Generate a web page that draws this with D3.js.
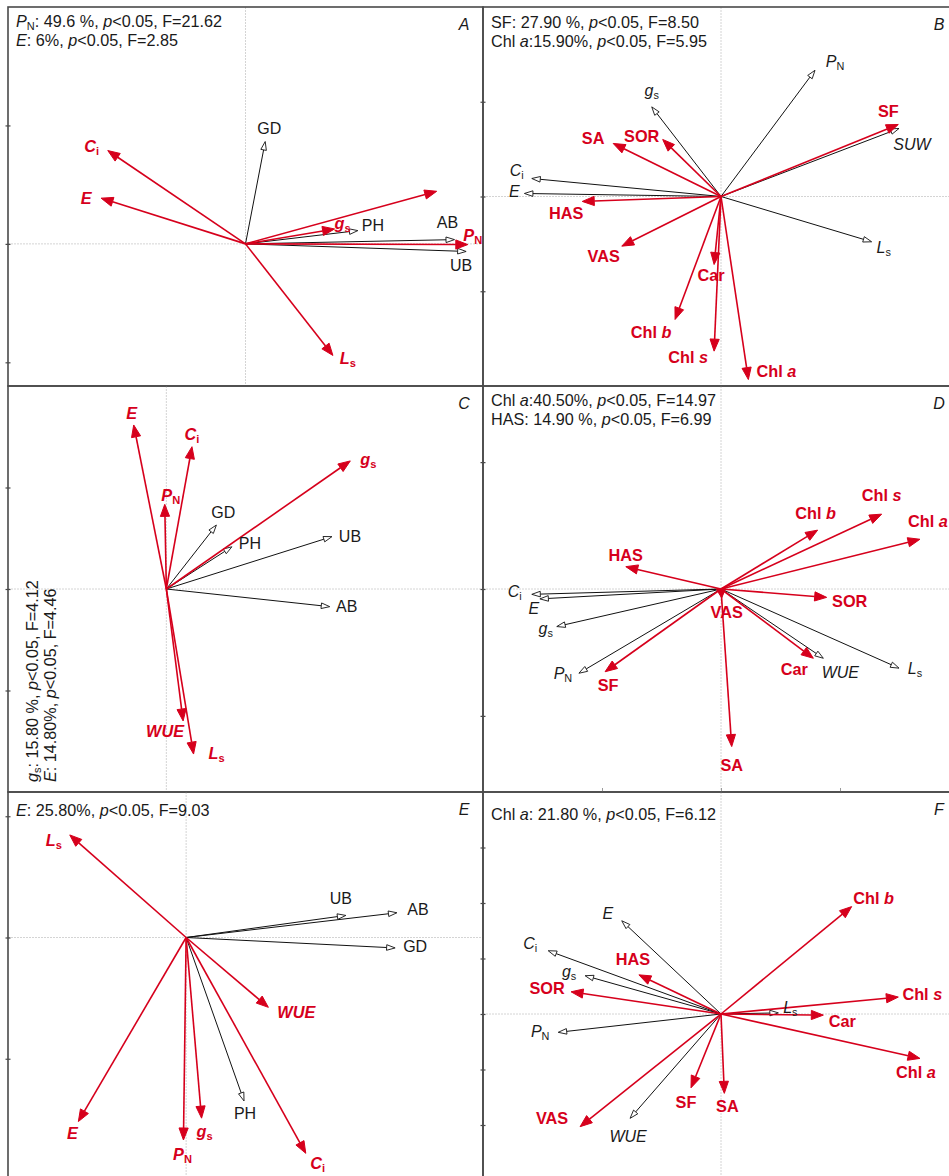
<!DOCTYPE html>
<html>
<head>
<meta charset="utf-8">
<script src="https://cdn.jsdelivr.net/npm/d3@7"></script>
<style>
  body { margin: 0; background: #fff; }
  svg { display: block; }
  text { font-family: "Liberation Sans", Arial, Helvetica, sans-serif; }
</style>
</head>
<body>
<svg id="fig" width="949" height="1176"></svg>
<script>
// ---- RDA biplot scores (canonical axis 1, axis 2) ----
// Markup in names: *x* = italic, _x_ = subscript

// Panel A
const A_red_names = ["*C*_i_", "*E*", "*WUE*", "*g*_s_", "*P*_N_", "*L*_s_"];
const A_red_x = [-0.580, -0.608, 0.805, 0.375, 0.936, 0.368];
const A_red_y = [0.394, 0.193, 0.222, 0.063, -0.003, -0.471];
const A_blk_names = ["GD", "PH", "AB", "UB"];
const A_blk_x = [0.083, 0.473, 0.880, 0.929];
const A_blk_y = [0.432, 0.056, 0.018, -0.032];

// Panel B
const B_blk_names = ["*P*_N_", "*g*_s_", "*SUW*", "*C*_i_", "*E*", "*L*_s_"];
const B_blk_x = [0.395, -0.291, 0.748, -0.795, -0.826, 0.633];
const B_blk_y = [0.666, 0.473, 0.359, 0.095, 0.016, -0.239];
const B_red_names = ["SF", "SA", "SOR", "HAS", "VAS", "Car", "Chl *b*", "Chl *s*", "Chl *a*"];
const B_red_x = [0.745, -0.453, -0.245, -0.583, -0.417, -0.029, -0.193, -0.029, 0.115];
const B_red_y = [0.380, 0.280, 0.301, -0.026, -0.262, -0.359, -0.649, -0.816, -0.966];

// Panel C
const C_red_names = ["*E*", "*C*_i_", "*P*_N_", "*g*_s_", "*WUE*", "*L*_s_"];
const C_red_x = [-0.103, 0.081, -0.005, 0.581, 0.053, 0.086];
const C_red_y = [0.808, 0.701, 0.417, 0.631, -0.650, -0.813];
const C_blk_names = ["GD", "PH", "UB", "AB"];
const C_blk_x = [0.158, 0.207, 0.523, 0.516];
const C_blk_y = [0.315, 0.208, 0.258, -0.087];

// Panel D
const D_red_names = ["Chl *s*", "Chl *b*", "Chl *a*", "HAS", "SOR", "VAS", "Car", "SF", "SA"];
const D_red_x = [0.675, 0.406, 0.836, -0.400, 0.444, 0.003, 0.388, -0.487, 0.045];
const D_red_y = [0.295, 0.232, 0.196, 0.088, -0.033, -0.035, -0.273, -0.326, -0.621];
const D_blk_names = ["*C*_i_", "*E*", "*g*_s_", "*P*_N_", "*WUE*", "*L*_s_"];
const D_blk_x = [-0.795, -0.761, -0.690, -0.597, 0.430, 0.748];
const D_blk_y = [-0.021, -0.039, -0.148, -0.332, -0.273, -0.312];

// Panel E
const E_red_names = ["*L*_s_", "*WUE*", "*E*", "*P*_N_", "*g*_s_", "*C*_i_"];
const E_red_x = [-0.392, 0.277, -0.363, -0.009, 0.052, 0.403];
const E_red_y = [0.423, -0.288, -0.759, -0.835, -0.745, -0.890];
const E_blk_names = ["UB", "AB", "GD", "PH"];
const E_blk_x = [0.538, 0.710, 0.704, 0.195];
const E_blk_y = [0.091, 0.102, -0.043, -0.674];

// Panel F
const F_blk_names = ["*E*", "*C*_i_", "*g*_s_", "*P*_N_", "*WUE*", "*L*_s_"];
const F_blk_x = [-0.417, -0.726, -0.571, -0.684, -0.382, 0.241];
const F_blk_y = [0.336, 0.228, 0.138, -0.066, -0.376, 0.004];
const F_red_names = ["Chl *b*", "Chl *s*", "Car", "Chl *a*", "HAS", "SOR", "SF", "SA", "VAS"];
const F_red_x = [0.549, 0.745, 0.430, 0.836, -0.345, -0.630, -0.126, 0.014, -0.592];
const F_red_y = [0.387, 0.061, -0.004, -0.160, 0.141, 0.080, -0.266, -0.286, -0.406];

// Forward-selection results printed in each panel
const A_stats = ["*P*_N_: 49.6 %,  *p*<0.05, F=21.62", "*E*: 6%, *p*<0.05, F=2.85"];
const B_stats = ["SF: 27.90 %, *p*<0.05, F=8.50", "Chl *a*:15.90%, *p*<0.05, F=5.95"];
const C_stats = ["*g*_s_: 15.80 %, *p*<0.05, F=4.12", "*E*: 14.80%, *p*<0.05, F=4.46"];
const D_stats = ["Chl *a*:40.50%, *p*<0.05, F=14.97", "HAS: 14.90 %, *p*<0.05, F=6.99"];
const E_stats = ["*E*: 25.80%, *p*<0.05, F=9.03"];
const F_stats = ["Chl *a*: 21.80 %, *p*<0.05, F=6.12"];

// Axis tick values (left edge) per panel
const A_yticks = [-0.5, 0, 0.5];
const B_yticks = [-0.5, 0, 0.5];
const C_yticks = [-0.5, 0, 0.5];
const D_yticks = [-0.5, 0, 0.5];
const E_yticks = [-0.5, 0, 0.5];
const F_yticks = [-0.4, -0.2, 0, 0.2, 0.4, 0.6];
const D_xticks = [-0.5, 0, 0.5];

// ---- layout ----
const RED = "#d6001c";
const STAT_SIZE = 16.2;
const LABEL_SIZE = 16;
const panels = [
  { id: "A", x0: 8,   x1: 483, y0: 7,   y1: 386,   xd: [-1, 1],    yd: [-0.6, 1.0], statY: 20, stats: A_stats, yt: A_yticks,
    red: [A_red_names, A_red_x, A_red_y], blk: [A_blk_names, A_blk_x, A_blk_y], sideStats: false },
  { id: "B", x0: 483, x1: 959, y0: 7,   y1: 386,   xd: [-1, 1],    yd: [-1, 1],     statY: 21, stats: B_stats, yt: B_yticks,
    red: [B_red_names, B_red_x, B_red_y], blk: [B_blk_names, B_blk_x, B_blk_y], sideStats: false },
  { id: "C", x0: 8,   x1: 483, y0: 386, y1: 792,   xd: [-0.5, 1.0], yd: [-1, 1],    statY: 0, stats: C_stats, yt: C_yticks,
    red: [C_red_names, C_red_x, C_red_y], blk: [C_blk_names, C_blk_x, C_blk_y], sideStats: true },
  { id: "D", x0: 483, x1: 959, y0: 386, y1: 792,   xd: [-1, 1],    yd: [-0.8, 0.8], statY: 20, stats: D_stats, yt: D_yticks, xt: D_xticks,
    red: [D_red_names, D_red_x, D_red_y], blk: [D_blk_names, D_blk_x, D_blk_y], sideStats: false },
  { id: "E", x0: 8,   x1: 483, y0: 792, y1: 1180,  xd: [-0.6, 1.0], yd: [-1.0, 0.6], statY: 24, stats: E_stats, yt: E_yticks,
    red: [E_red_names, E_red_x, E_red_y], blk: [E_blk_names, E_blk_x, E_blk_y], sideStats: false },
  { id: "F", x0: 483, x1: 959, y0: 792, y1: 1180.5, xd: [-1, 1],   yd: [-0.6, 0.8], statY: 28, stats: F_stats, yt: F_yticks,
    red: [F_red_names, F_red_x, F_red_y], blk: [F_blk_names, F_blk_x, F_blk_y], sideStats: false }
];

// label offsets from arrow tip to label centre (px); null = no label
const nudge = {
  A: { red: [[-16, -4], [-15, 0], null, [8, -5], [5, -9], [15, 3]],
       blk: [[4, -13], [15, -5], [-7, -17], [-5, 14]] },
  B: { blk: [[20, -9], [0, -16], [13, 16], [-15, -8], [-10, -2], [12, 6]],
       red: [[-10, -13], [-20, -5], [-21, -3], [-16, 12], [-18, 10], [-3, 11], [-24, 13], [-26, 6], [28, -8]] },
  C: { red: [[-2, -11], [0, -12], [6, -9], [18, -1], [-18, 11], [23, -1]],
       blk: [[7, -13], [18, -3], [18, 0], [17, 0]] },
  D: { red: [[0, -19], [-2, -17], [8, -18], [0, -11], [23, 4], [5, 15], [-19, 11], [3, 14], [0, 19]],
       blk: [[-17, -3], [-6, 10], [-11, 2], [-16, 0], [17, 14], [16, 0]] },
  E: { red: [[-16, 6], [28, 5], [-6, 12], [-1, 15], [3, 13], [12, 10]],
       blk: [[-5, -17], [21, -3], [20, -1], [1, 13]] },
  F: { blk: [[-14, -7], [-18, -7], [-16, -4], [-18, -1], [-2, 18], [12, -5]],
       red: [[22, -8], [24, -3], [19, 6], [-4, 14], [-6, -15], [-24, -3], [-5, 15], [3, 13], [-28, -8]] }
};

const svg = d3.select("#fig");

// write a markup string into a <text> element as tspans
function richText(textSel, s) {
  const parts = s.match(/(\*[^*]+\*|_[^_]+_|[^*_]+)/g) || [];
  let lowered = false;
  parts.forEach(p => {
    const t = textSel.append("tspan");
    if (p.startsWith("*")) {
      t.text(p.slice(1, -1)).attr("font-style", "italic");
      if (lowered) { t.attr("dy", -3); lowered = false; }
    } else if (p.startsWith("_")) {
      t.text(p.slice(1, -1)).attr("font-size", "0.68em").attr("font-style", "normal").attr("dy", 3);
      lowered = true;
    } else {
      t.text(p);
      if (lowered) { t.attr("dy", -3); lowered = false; }
    }
  });
}

function drawArrow(g, sx, sy, x, y, red) {
  const ox = sx(0), oy = sy(0), tx = sx(x), ty = sy(y);
  const dx = tx - ox, dy = ty - oy;
  const len = Math.hypot(dx, dy) || 1;
  const ux = dx / len, uy = dy / len;
  let L = red ? 12 : 8.5;
  const W = red ? 4.6 : 2.8;
  if (L > len) L = len;
  const bx = tx - ux * L, by = ty - uy * L;
  g.append("line")
    .attr("x1", ox).attr("y1", oy).attr("x2", bx).attr("y2", by)
    .attr("stroke", red ? RED : "#111")
    .attr("stroke-width", red ? 1.6 : 1);
  g.append("path")
    .attr("d", `M${tx},${ty}L${bx - uy * W},${by + ux * W}L${bx + uy * W},${by - ux * W}Z`)
    .attr("fill", red ? RED : "#fff")
    .attr("stroke", red ? RED : "#111")
    .attr("stroke-width", red ? 1 : 0.9)
    .attr("stroke-linejoin", "miter");
}

function drawLabel(g, sx, sy, name, x, y, off, red) {
  if (!off) return;
  const t = g.append("text")
    .attr("x", sx(x) + off[0])
    .attr("y", sy(y) + off[1] + 5.5)
    .attr("text-anchor", "middle")
    .attr("font-size", red ? LABEL_SIZE + 0.3 : LABEL_SIZE)
    .attr("font-weight", red ? "bold" : "normal")
    .attr("fill", red ? RED : "#1a1a1a");
  richText(t, name);
}

panels.forEach(p => {
  const sx = d3.scaleLinear().domain(p.xd).range([p.x0, p.x1]);
  const sy = d3.scaleLinear().domain(p.yd).range([p.y1, p.y0]);
  const g = svg.append("g").attr("class", "panel-" + p.id);

  // zero lines
  g.append("line").attr("x1", p.x0).attr("x2", p.x1).attr("y1", sy(0)).attr("y2", sy(0))
    .attr("stroke", "#d4d4d4").attr("stroke-width", 1).attr("stroke-dasharray", "2,1");
  g.append("line").attr("x1", sx(0)).attr("x2", sx(0)).attr("y1", p.y0).attr("y2", p.y1)
    .attr("stroke", "#d4d4d4").attr("stroke-width", 1).attr("stroke-dasharray", "2,1");

  // arrows: black first, red on top
  const [bn, bx, by] = p.blk;
  const [rn, rx, ry] = p.red;
  const arrows = g.append("g");
  bn.forEach((n, i) => drawArrow(arrows, sx, sy, bx[i], by[i], false));
  rn.forEach((n, i) => drawArrow(arrows, sx, sy, rx[i], ry[i], true));

  const labels = g.append("g");
  bn.forEach((n, i) => drawLabel(labels, sx, sy, n, bx[i], by[i], nudge[p.id].blk[i], false));
  rn.forEach((n, i) => drawLabel(labels, sx, sy, n, rx[i], ry[i], nudge[p.id].red[i], true));

  // statistics text
  if (p.sideStats) {
    p.stats.forEach((s, i) => {
      const xx = p.x0 + 29.5 + i * 18, yy = p.y1 - 10;
      const t = g.append("text")
        .attr("transform", `translate(${xx},${yy}) rotate(-90)`)
        .attr("font-size", STAT_SIZE).attr("fill", "#1a1a1a");
      richText(t, s);
    });
  } else {
    p.stats.forEach((s, i) => {
      const t = g.append("text")
        .attr("x", p.x0 + 8).attr("y", p.y0 + p.statY + i * 19)
        .attr("font-size", STAT_SIZE).attr("fill", "#1a1a1a");
      richText(t, s);
    });
  }

  // panel letter
  g.append("text")
    .attr("x", p.x0 + 456).attr("y", p.y0 + 23)
    .attr("text-anchor", "middle")
    .attr("font-size", 16).attr("font-style", "italic").attr("fill", "#1a1a1a")
    .text(p.id);

  // frame
  g.append("rect")
    .attr("x", p.x0).attr("y", p.y0).attr("width", p.x1 - p.x0).attr("height", p.y1 - p.y0)
    .attr("fill", "none").attr("stroke", "#4a4a4a").attr("stroke-width", 1.6);

  // left ticks
  const ax = d3.axisLeft(sy).tickValues(p.yt).tickSize(5).tickFormat("");
  g.append("g").attr("transform", `translate(${p.x0 + 2.5},0)`).call(ax)
    .call(a => a.select(".domain").remove())
    .selectAll("line").attr("stroke", "#4a4a4a").attr("stroke-width", 1.2);

  // bottom ticks
  if (p.xt) {
    const bxAxis = d3.axisTop(sx).tickValues(p.xt).tickSize(4).tickFormat("");
    g.append("g").attr("transform", `translate(0,${p.y1})`).call(bxAxis)
      .call(a => a.select(".domain").remove())
      .selectAll("line").attr("stroke", "#9a9a9a").attr("stroke-width", 1);
  }
});
</script>
</body>
</html>
